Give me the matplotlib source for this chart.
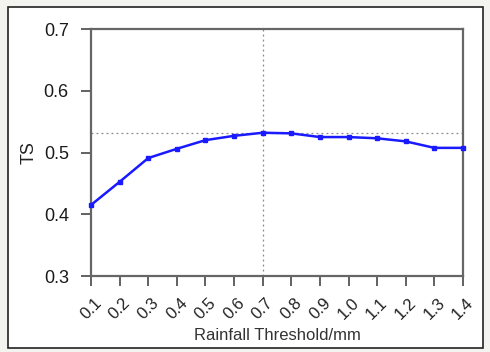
import numpy as np
import matplotlib
matplotlib.use('Agg')
import matplotlib.pyplot as plt
from matplotlib.patches import Rectangle

plt.rcParams['font.family'] = ['Liberation Sans', 'DejaVu Sans']

thresholds = [0.1, 0.2, 0.3, 0.4, 0.5, 0.6, 0.7, 0.8, 0.9, 1.0, 1.1, 1.2, 1.3, 1.4]
tick_labels = ['0.1', '0.2', '0.3', '0.4', '0.5', '0.6', '0.7',
               '0.8', '0.9', '1.0', '1.1', '1.2', '1.3', '1.4']
ts = [0.415, 0.4525, 0.491, 0.506, 0.520, 0.527, 0.532,
      0.531, 0.525, 0.525, 0.523, 0.518, 0.5075, 0.5075]
best_threshold = 0.7
best_ts = 0.532

fig = plt.figure(figsize=(4.9, 3.52), dpi=100)
fig.patch.set_facecolor('#f3f3ef')
# white panel with a thin black border, kept behind the axes
panel = Rectangle((8 / 490, 4 / 352), 475 / 490, 341 / 352,
                  transform=fig.transFigure, facecolor='white',
                  edgecolor='#222222', linewidth=1.2)
panel.set_zorder(-10)
fig.add_artist(panel)

ax = fig.add_axes([0.1857, 0.2159, 0.7592, 0.7017])
ax.set_zorder(1)
ax.set_facecolor('white')

ax.axhline(best_ts, color='#888888', linestyle=(0, (1.5, 2.5)), linewidth=0.9, zorder=1)
ax.axvline(best_threshold, color='#888888', linestyle=(0, (1.5, 2.5)), linewidth=0.9, zorder=1)

ax.plot(thresholds, ts, color='#1a1aff', linewidth=1.8, marker='s',
        markersize=3, clip_on=False, zorder=3)

ax.set_xlim(0.1, 1.4)
ax.set_ylim(0.3, 0.7)
ax.set_xticks(thresholds)
ax.set_xticklabels(tick_labels, rotation=45, fontsize=12, color='#222222')
ax.set_yticks([0.3, 0.4, 0.5, 0.6, 0.7])
ax.set_yticklabels(['0.3', '0.4', '0.5', '0.6', '0.7'], fontsize=13, color='#1a1a1a')
ax.tick_params(axis='both', direction='out', length=7, width=1.3, color='#555555')
ax.tick_params(axis='y', pad=9)
ax.tick_params(axis='x', pad=7)

for side in ['left', 'right', 'top', 'bottom']:
    ax.spines[side].set_color('#666666')
    ax.spines[side].set_linewidth(1.6)

ax.set_xlabel('Rainfall Threshold/mm', fontsize=12, color='#333333', labelpad=4)
ax.set_ylabel('TS', fontsize=13, color='#222222', labelpad=4)

fig.savefig('out.png', dpi=100, facecolor=fig.get_facecolor())
